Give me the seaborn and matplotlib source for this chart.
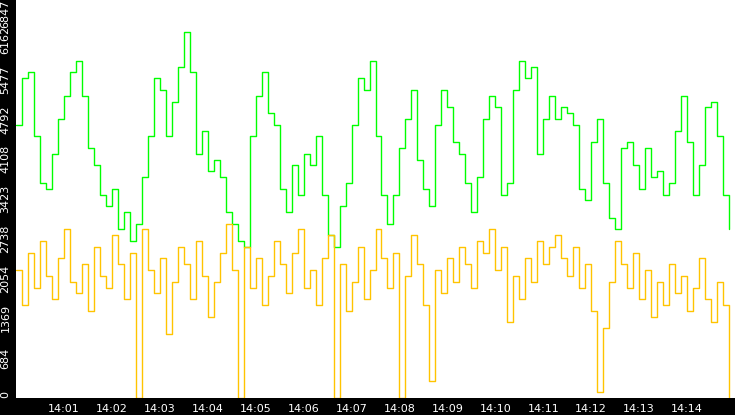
import numpy as np
import pandas as pd
import matplotlib
matplotlib.use("Agg")
import matplotlib.pyplot as plt
import matplotlib.dates as mdates
import seaborn as sns

# 7.5 s samples from 14:00:00
green = [4700, 5500, 5600, 4500, 3700, 3600, 4200, 4800, 5200, 5600, 5800, 5200, 4300, 4000, 3500,
         3300, 3600, 2900, 3200, 2700, 3000, 3800, 4500, 5500, 5300, 4500, 5100, 5700, 6300, 5600,
         4200, 4600, 3900, 4100, 3800, 3200, 3000, 2700, 2600, 4500, 5200, 5600, 4900, 4700, 3600,
         3200, 4000, 3500, 4200, 4000, 4500, 3500, 2800, 2600, 3300, 3700, 4700, 5500, 5300, 5800,
         4500, 3500, 3000, 3500, 4300, 4800, 5300, 4100, 3600, 3300, 4700, 5300, 5000, 4400, 4200,
         3700, 3200, 3800, 4800, 5200, 5000, 3500, 3700, 5300, 5800, 5500, 5700, 4200, 4800, 5200,
         4800, 5000, 4900, 4700, 3600, 3400, 4400, 4800, 3700, 3100, 2900, 4300, 4400, 4000, 3600,
         4300, 3800, 3900, 3500, 3700, 4600, 5200, 4400, 3500, 4000, 5000, 5100, 4500, 3500, 2900]
yellow = [2200, 1600, 2500, 1900, 2700, 2100, 1700, 2400, 2900, 2000, 1800, 2300, 1500, 2600, 2100,
          1900, 2800, 2300, 1700, 2500, 0, 2900, 2200, 1800, 2400, 1100, 2000, 2600, 2300, 1700,
          2700, 2100, 1400, 2000, 2500, 3000, 2200, 0, 2600, 1900, 2400, 1600, 2100, 2700, 2300,
          1800, 2500, 2900, 1900, 2200, 1600, 2400, 2800, 0, 2300, 1500, 2000, 2600, 1700, 2200,
          2900, 2400, 1900, 2500, 0, 2100, 2800, 2300, 1600, 300, 2200, 1800, 2400, 2000, 2600,
          2300, 1900, 2700, 2500, 2900, 2200, 2600, 1300, 2100, 1700, 2400, 2000, 2700, 2300, 2600,
          2800, 2400, 2100, 2600, 1900, 2300, 1500, 100, 1200, 2000, 2700, 2300, 1900, 2500, 1700,
          2200, 1400, 2000, 1600, 2300, 1800, 2100, 1500, 1900, 2400, 1700, 1300, 2000, 1600, 0]
yticks = [0, 684, 1369, 2054, 2738, 3423, 4108, 4792, 5477, 6162, 6847]

t = pd.date_range("2024-01-01 14:00:00", periods=len(green), freq="7500ms")
df = pd.DataFrame({"time": t, "green": green, "yellow": yellow})

sns.set_style("white")
fig = plt.figure(figsize=(7.35, 4.15), dpi=100, facecolor="black")
ax = fig.add_axes([16 / 735, 17 / 415, 719 / 735, 398 / 415])
ax.set_facecolor("white")

sns.lineplot(data=df, x="time", y="green", ax=ax, color="#00ff00", lw=1, drawstyle="steps-post")
sns.lineplot(data=df, x="time", y="yellow", ax=ax, color="#ffc400", lw=1, drawstyle="steps-post")

ax.set_xlim(t[0], t[-1] + pd.Timedelta("7500ms"))
ax.set_ylim(0, 6847)
ax.set_yticks(yticks)
ax.set_yticklabels([str(v) for v in yticks], rotation=90, va="center")
ax.get_yticklabels()[-1].set_va("top")
ax.get_yticklabels()[0].set_va("bottom")
ax.xaxis.set_major_locator(mdates.MinuteLocator(byminute=range(1, 15)))
ax.xaxis.set_major_formatter(mdates.DateFormatter("%H:%M"))
ax.tick_params(colors="white", labelsize=8, length=3, pad=1)
ax.tick_params(axis="x", direction="out")
ax.set_xlabel("")
ax.set_ylabel("")
for s in ax.spines.values():
    s.set_visible(False)

fig.savefig("out.png", facecolor="black")
